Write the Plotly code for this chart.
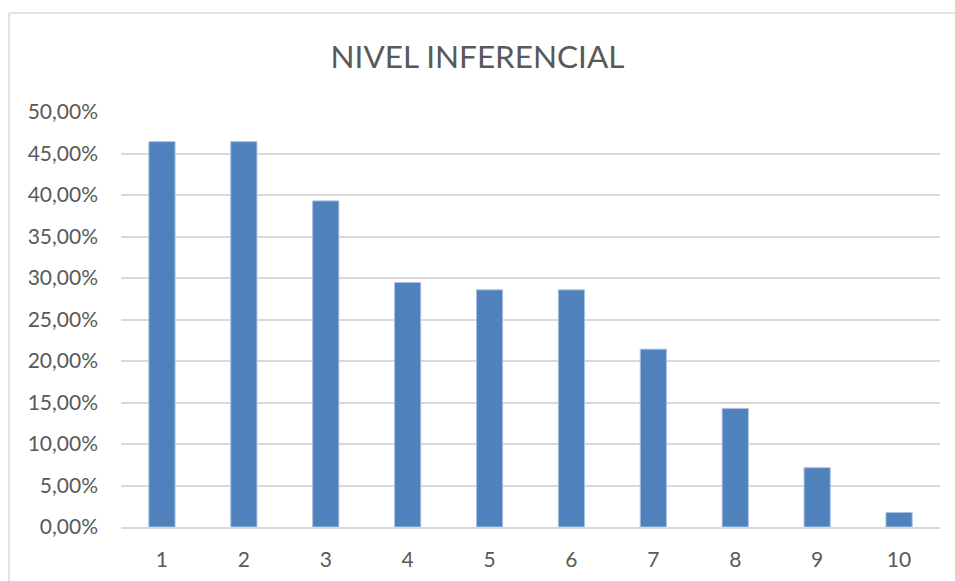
import plotly.graph_objects as go

categories = ["1", "2", "3", "4", "5", "6", "7", "8", "9", "10"]
values = [0.4643, 0.4643, 0.3929, 0.2946, 0.2857, 0.2857, 0.2143, 0.1429, 0.0714, 0.0175]
y_ticks = [0, 0.05, 0.10, 0.15, 0.20, 0.25, 0.30, 0.35, 0.40, 0.45, 0.50]
title_text = "NIVEL INFERENCIAL"

W, H = 955, 581
ml, mr, mt, mb = 121, 15, 112, 54
pw, ph = W - ml - mr, H - mt - mb

fig = go.Figure(go.Bar(
    x=categories, y=values,
    marker=dict(color="#4F81BD", line=dict(color="#A9C1E0", width=1)),
    width=0.32,
))

txt = "#595959"
fam = "Lato"
fig.update_layout(
    width=W, height=H,
    margin=dict(l=ml, r=mr, t=mt, b=mb),
    paper_bgcolor="white", plot_bgcolor="white",
    separators=",.",
    showlegend=False,
    title=dict(text=title_text, x=0.5, xanchor="center", y=1 - 57 / H, yanchor="middle",
               font=dict(family=fam, size=31.5, color=txt)),
    xaxis=dict(type="category", showgrid=False, showline=True, linecolor="#D9D9D9", linewidth=1.5,
               ticks="", tickfont=dict(family=fam, size=21, color=txt), ticklabelstandoff=13,
               automargin=False),
    yaxis=dict(range=[0, 0.5], tickvals=y_ticks, tickformat=".2%", showgrid=True,
               gridcolor="#D9D9D9", gridwidth=1.5, zeroline=False, showline=False, ticks="",
               tickfont=dict(family=fam, size=21, color=txt), ticklabelstandoff=22,
               automargin=False),
    font=dict(family=fam, color=txt),
)

# outer chart border (left and top edges visible)
x0 = (9 - ml) / pw
y_top = (H - mb - 13) / ph
fig.add_shape(type="line", xref="paper", yref="paper", x0=x0, x1=x0, y0=y_top, y1=-0.5,
              line=dict(color="#D9D9D9", width=1.5))
fig.add_shape(type="line", xref="paper", yref="paper", x0=x0, x1=1.5, y0=y_top, y1=y_top,
              line=dict(color="#D9D9D9", width=1.5))

fig.write_html("out.html", config={"displayModeBar": False},
               post_script="document.body.style.margin='0';document.body.style.overflow='hidden';")
